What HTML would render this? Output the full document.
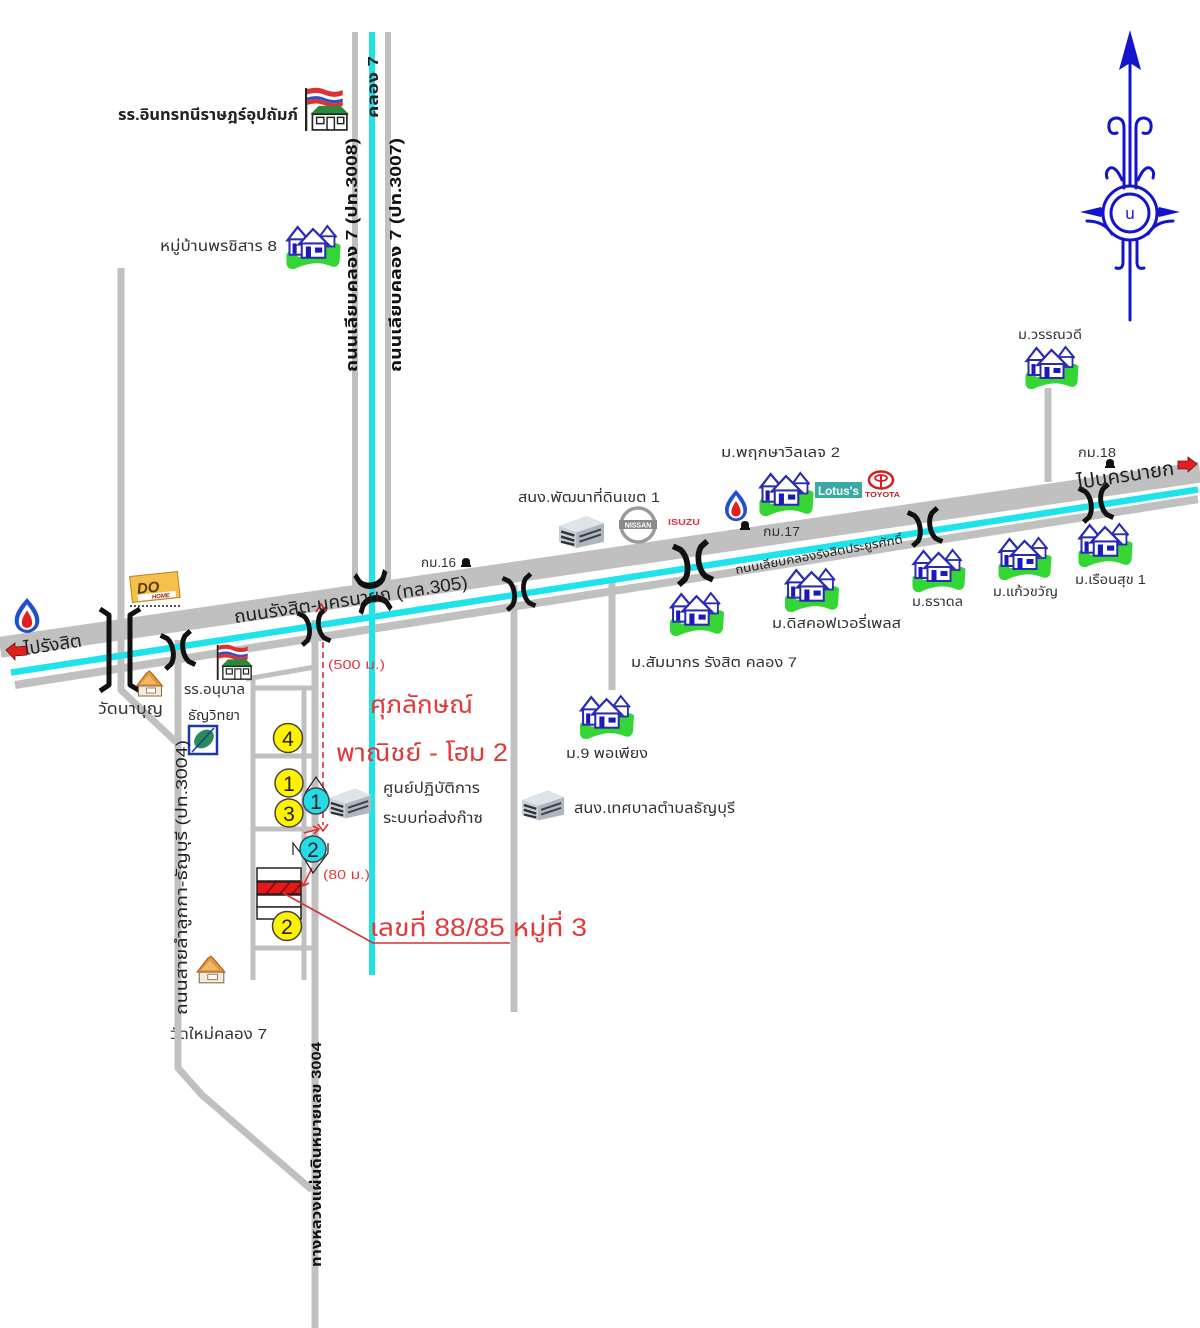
<!DOCTYPE html>
<html><head><meta charset="utf-8">
<style>
html,body{margin:0;padding:0;background:#fff;}
svg{display:block;}
text{font-family:"Liberation Sans","Noto Sans Thai","Noto Sans Thai UI","Tahoma","Loma","Garuda","Norasi","DejaVu Sans",sans-serif;}
</style></head><body>
<svg width="1200" height="1328" viewBox="0 0 1200 1328" xmlns="http://www.w3.org/2000/svg">
<defs>
<symbol id="house" viewBox="0 0 54 46">
 <path d="M1,31 Q2,27 9,28 L12,33 L36,32 Q38,24 42,21 Q50,18 54,22 L53,38 Q51,45 44,42 Q34,38 24,40 Q14,42 9,45 Q2,46 1,40 Z" fill="#33d633"/>
 <path d="M33,14 L41,3 L50,14" fill="#fff" stroke="#2b2bb0" stroke-width="2"/>
 <rect x="36" y="13" width="12" height="10" fill="#fff" stroke="#2b2bb0" stroke-width="1.8"/>
 <path d="M2,17 L12,4 L23,17 Z" fill="#fff" stroke="#2b2bb0" stroke-width="2.2"/>
 <rect x="4" y="16" width="16" height="15" fill="#fff" stroke="#2b2bb0" stroke-width="2"/>
 <rect x="7" y="20" width="4" height="10" fill="#1a1ab8"/>
 <path d="M13,21 L27,6 L42,21 Z" fill="#fff" stroke="#2b2bb0" stroke-width="2.2"/>
 <rect x="16" y="20" width="23" height="14" fill="#fff" stroke="#2b2bb0" stroke-width="2"/>
 <rect x="20" y="23" width="5" height="11" fill="#1a1ab8"/>
 <rect x="29" y="24" width="7" height="5" fill="#1a1ab8"/>
</symbol>
<symbol id="bldg" viewBox="0 0 46 34">
 <path d="M1,12 L28,2 L45,9 L45,27 L18,33 L1,27Z" fill="#8e969e"/>
 <path d="M1,12 L28,2 L45,9 L18,18Z" fill="#dfe4e8"/>
 <path d="M18,18 L45,9 L45,27 L18,33Z" fill="#aeb6bd"/>
 <path d="M1,12 L18,18 L18,33 L1,27Z" fill="#c9cfd4"/>
 <path d="M3,17 L16,21 M3,22 L16,26 M3,27 L16,30" stroke="#2a3036" stroke-width="2.4"/>
 <path d="M21,22 L42,15 M21,27 L42,20" stroke="#3a4046" stroke-width="2"/>
</symbol>
<symbol id="ptt" viewBox="0 0 28 36">
 <path d="M14,1 C6,10 2,16 2,23 C2,30 8,35 14,35 C20,35 26,30 26,23 C26,16 22,10 14,1Z" fill="#2050d0"/>
 <path d="M14,7 C9,14 6,18 6,24 C6,29 10,32 14,32 C18,32 22,29 22,24 C22,18 19,14 14,7Z" fill="#fff"/>
 <path d="M14,13 C11,18 9,21 9,25 C9,28 11,30 14,30 C17,30 19,28 19,25 C19,21 17,18 14,13Z" fill="#e02020"/>
</symbol>
<symbol id="school" viewBox="0 0 44 42">
 <line x1="3" y1="1" x2="3" y2="42" stroke="#222" stroke-width="2.2"/>
 <path d="M4,2 Q14,-1 22,3 Q30,6 38,3 L38,8 Q30,11 22,8 Q14,4 4,7Z" fill="#e03030"/>
 <path d="M4,7 Q14,4 22,8 Q30,11 38,8 L38,11 Q30,14 22,11 Q14,7 4,10Z" fill="#fff"/>
 <path d="M4,10 Q14,7 22,11 Q30,14 38,11 L38,14 Q30,17 22,14 Q14,10 4,13Z" fill="#3050c0"/>
 <path d="M4,13 Q14,10 22,14 Q30,17 38,14 L38,18 Q30,21 22,18 Q14,14 4,17Z" fill="#e03030"/>
 <path d="M7,26 L15,18 L36,18 L44,26 Z" fill="#2a8a3a"/>
 <rect x="9" y="26" width="33" height="15" fill="#fff" stroke="#222" stroke-width="1.6"/>
 <rect x="13" y="29" width="7" height="6" fill="#fff" stroke="#222" stroke-width="1.4"/>
 <rect x="23" y="29" width="7" height="12" fill="#fff" stroke="#222" stroke-width="1.4"/>
 <rect x="33" y="29" width="6" height="6" fill="#fff" stroke="#222" stroke-width="1.4"/>
</symbol>
<symbol id="temple" viewBox="0 0 30 28">
 <path d="M2,16 L12,3 L15,1 L18,4 L28,16 Z" fill="#e8963a" stroke="#a85a1a" stroke-width="1"/>
 <path d="M6,14 L14,5 L22,14Z" fill="#f2b86a"/>
 <rect x="4" y="16" width="23" height="10" fill="#f3ead8" stroke="#8a6a4a" stroke-width="1"/>
 <rect x="12" y="18" width="9" height="5" fill="#fff" stroke="#8a6a4a" stroke-width="0.8"/>
</symbol>
<g id="br">
 <path d="M-15,-17 L-9,-13 Q-5,-8 -5,0 Q-5,8 -9,13 L-15,17" fill="none" stroke="#111" stroke-width="5" stroke-linejoin="round"/>
 <path d="M15,-17 L9,-13 Q5,-8 5,0 Q5,8 9,13 L15,17" fill="none" stroke="#111" stroke-width="5" stroke-linejoin="round"/>
</g>
<g id="km">
 <path d="M-4,4 L-4,0 Q-4,-4 0,-4 Q4,-4 4,0 L4,4 Z" fill="#111"/>
 <rect x="-5" y="3" width="10" height="2" fill="#111"/>
</g>
</defs>

<rect width="1200" height="1328" fill="#fff"/>

<!-- gray roads (under main road) -->
<g stroke="#c0c0c0" fill="none" stroke-linejoin="round">
 <line x1="355" y1="32" x2="355" y2="600" stroke-width="6"/>
 <line x1="388" y1="32" x2="388" y2="590" stroke-width="6"/>
 <polyline points="121,268 121,690 176,742" stroke-width="7"/>
 <polyline points="178,640 178,1068 202,1095 312,1190" stroke-width="7"/>
 <line x1="315" y1="620" x2="315" y2="1328" stroke-width="7"/>
 <line x1="514" y1="585" x2="514" y2="1012" stroke-width="7"/>
 <line x1="612" y1="580" x2="612" y2="690" stroke-width="7"/>
 <line x1="1048" y1="388" x2="1048" y2="482" stroke-width="7"/>
 <line x1="253" y1="677" x2="253" y2="980" stroke-width="5"/>
 <line x1="304" y1="688" x2="304" y2="980" stroke-width="5"/>
 <line x1="246" y1="679" x2="315" y2="667" stroke-width="5"/>
 <line x1="253" y1="688" x2="315" y2="688" stroke-width="5"/>
 <line x1="253" y1="756" x2="315" y2="756" stroke-width="5"/>
 <line x1="253" y1="829" x2="315" y2="829" stroke-width="5"/>
 <line x1="253" y1="948" x2="315" y2="948" stroke-width="5"/>
</g>

<!-- main road -->
<line x1="0" y1="647.3" x2="1200" y2="472.1" stroke="#c0c0c0" stroke-width="21"/>
<line x1="15" y1="685" x2="1198" y2="499.2" stroke="#c0c0c0" stroke-width="8"/>
<line x1="11" y1="672.6" x2="1198" y2="489.6" stroke="#1ee3ea" stroke-width="6.5"/>
<line x1="372" y1="32" x2="372" y2="975" stroke="#1ee3ea" stroke-width="6"/>

<!-- bridges -->
<path d="M100,609 L109,615 L109,685 L100,691" fill="none" stroke="#111" stroke-width="5" stroke-linejoin="round"/>
<path d="M140,609 L130,615 L130,685 L140,691" fill="none" stroke="#111" stroke-width="5" stroke-linejoin="round"/>
<use href="#br" transform="translate(178,650) rotate(-8.5)"/>
<use href="#br" transform="translate(314,627) rotate(-8.5) scale(0.95)"/>
<use href="#br" transform="translate(373,592) rotate(81.5) scale(1.3 0.9)"/>
<use href="#br" transform="translate(519,592) rotate(-8.5) scale(0.95)"/>
<use href="#br" transform="translate(693,563) rotate(-8.5) scale(1.15)"/>
<use href="#br" transform="translate(925,527) rotate(-8.5)"/>
<use href="#br" transform="translate(1096,503) rotate(-8.5)"/>

<!-- compass -->
<g stroke="#1414cc" fill="none" stroke-width="3" stroke-linecap="round">
 <line x1="1130" y1="60" x2="1130" y2="186"/>
 <line x1="1130" y1="240" x2="1130" y2="320"/>
 <circle cx="1130" cy="213" r="27"/>
 <circle cx="1130" cy="213" r="19" stroke-width="3"/>
 <path d="M1124,188 L1124,128 Q1124,118 1116,118 Q1108,119 1109,128 Q1110,135 1117,133"/>
 <path d="M1136,188 L1136,128 Q1136,118 1144,118 Q1152,119 1151,128 Q1150,135 1143,133"/>
 <path d="M1122,180 Q1116,166 1110,168 Q1105,171 1107,178"/>
 <path d="M1138,180 Q1144,166 1150,168 Q1155,171 1153,178"/>
 <path d="M1123,240 L1123,262 Q1123,270 1116,268"/>
 <path d="M1137,240 L1137,262 Q1137,270 1144,268"/>
 <path d="M1087,221 Q1104,221 1112,234"/>
 <path d="M1173,221 Q1156,221 1148,234"/>
</g>
<polygon points="1130,30 1141,70 1130,63 1119,70" fill="#1414cc"/>
<polygon points="1080,212 1101,207 1104,212 1101,217" fill="#1414cc"/>
<polygon points="1180,212 1159,207 1156,212 1159,217" fill="#1414cc"/>
<text x="1130" y="219" text-anchor="middle" font-size="16" fill="#1414cc">น</text>

<!-- icons -->
<use href="#school" x="303" y="87" width="46" height="44"/>
<use href="#school" x="213" y="644" width="42" height="36"/>
<use href="#temple" x="134" y="670" width="31" height="28"/>
<use href="#temple" x="195" y="955" width="32" height="30"/>
<use href="#ptt" x="12" y="597" width="30" height="37"/>
<use href="#ptt" x="723" y="489" width="26" height="33"/>
<use href="#house" x="285" y="223" width="56" height="47"/>
<use href="#house" x="1024" y="344" width="55" height="46"/>
<use href="#house" x="758" y="470" width="56" height="47"/>
<use href="#house" x="669" y="590" width="55" height="47"/>
<use href="#house" x="784" y="566" width="55" height="47"/>
<use href="#house" x="911" y="547" width="55" height="46"/>
<use href="#house" x="997" y="535" width="55" height="46"/>
<use href="#house" x="1077" y="521" width="56" height="47"/>
<use href="#house" x="579" y="693" width="55" height="47"/>
<use href="#bldg" x="328" y="786" width="44" height="34"/>
<use href="#bldg" x="521" y="788" width="44" height="34"/>
<use href="#bldg" x="558" y="514" width="47" height="35"/>

<!-- DO HOME -->
<g transform="translate(155,588) rotate(-6)">
 <rect x="-24" y="-14" width="48" height="26" fill="#f5c04a" stroke="#c08020" stroke-width="1"/>
 <text x="-18" y="4" font-size="15" font-weight="bold" font-style="italic" fill="#5a3a10">DO</text>
 <rect x="-18" y="5" width="38" height="6" fill="#fff"/>
 <text x="-4" y="10.5" font-size="6" font-weight="bold" font-style="italic" fill="#8a2a10">HOME</text>
</g>
<line x1="130" y1="606" x2="182" y2="606" stroke="#555" stroke-width="2" stroke-dasharray="2,2"/>

<!-- leaf icon -->
<rect x="189" y="726" width="28" height="28" fill="#fff" stroke="#1a3aa0" stroke-width="2.5"/>
<ellipse cx="204" cy="739" rx="11" ry="8" transform="rotate(-40 204 739)" fill="#2a8a5a"/>
<line x1="192" y1="752" x2="214" y2="728" stroke="#1a3aa0" stroke-width="1.5"/>

<!-- NISSAN / ISUZU -->
<circle cx="638" cy="525" r="17" fill="#fff" stroke="#9a9a9a" stroke-width="3.5"/>
<rect x="619" y="520" width="38" height="9" fill="#8a8a8a"/>
<text x="638" y="527.5" font-size="7" font-weight="bold" fill="#fff" text-anchor="middle">NISSAN</text>
<text x="668" y="525" font-size="8" font-weight="bold" fill="#e03040" textLength="32" lengthAdjust="spacingAndGlyphs">ISUZU</text>

<!-- Lotus / Toyota -->
<rect x="815" y="482" width="47" height="16" fill="#3aa9a2"/>
<text x="818" y="495" font-size="12" font-weight="bold" fill="#fff" textLength="41" lengthAdjust="spacingAndGlyphs">Lotus's</text>
<ellipse cx="881" cy="480" rx="12" ry="8.5" fill="none" stroke="#d02020" stroke-width="2.5"/>
<ellipse cx="881" cy="478" rx="6" ry="3" fill="none" stroke="#d02020" stroke-width="1.8"/>
<line x1="881" y1="475" x2="881" y2="488" stroke="#d02020" stroke-width="2"/>
<text x="865" y="497" font-size="7" font-weight="bold" fill="#c02020" textLength="35" lengthAdjust="spacingAndGlyphs">TOYOTA</text>

<!-- km markers -->
<use href="#km" x="466" y="562"/>
<use href="#km" x="745" y="525"/>
<use href="#km" x="1110" y="463"/>

<!-- end arrows -->
<polygon points="6,650 15,643 15,647 27,646 27,655 15,656 15,660" fill="#e02020" stroke="#701010" stroke-width="0.8"/>
<polygon points="1197,464 1188,457 1188,461 1178,461 1178,469 1188,469 1188,472" fill="#e02020" stroke="#701010" stroke-width="0.8"/>

<!-- grid boxes -->
<rect x="257" y="868" width="44" height="13" fill="#fff" stroke="#222" stroke-width="1.5"/>
<rect x="257" y="882" width="44" height="12" fill="#e81818" stroke="#222" stroke-width="1.5"/>
<path d="M266,894 L276,882 M280,894 L290,882 M292,894 L301,884" stroke="#7a0a0a" stroke-width="1.5"/>
<rect x="257" y="895" width="44" height="12" fill="#fff" stroke="#222" stroke-width="1.5"/>
<rect x="257" y="907" width="44" height="12" fill="#fff" stroke="#222" stroke-width="1.5"/>

<!-- red annotations -->
<line x1="323" y1="642" x2="323" y2="825" stroke="#e03030" stroke-width="1.6" stroke-dasharray="6,4"/>
<path d="M316,612 L321,604 L326,612" fill="none" stroke="#e03030" stroke-width="1.8"/>
<path d="M318,824 L323,831 L328,824" fill="none" stroke="#e03030" stroke-width="1.6"/>
<path d="M304,833 L319,829 M313,826 L319,829 L314,834" fill="none" stroke="#e03030" stroke-width="1.6"/>
<path d="M312,868 L303,886 M301,879 L303,886 L309,883" fill="none" stroke="#e03030" stroke-width="1.6"/>
<polyline points="283,893 373,943 510,943" fill="none" stroke="#d83030" stroke-width="1.6"/>

<!-- diamond outlines -->
<path d="M305,793 L316,777 L327,793" fill="none" stroke="#222" stroke-width="1.2"/>
<path d="M293,855 L293,843 L302,855 L313,873 L328,853 L328,843" fill="none" stroke="#222" stroke-width="1.2"/>

<!-- numbered circles -->
<g stroke="#444" stroke-width="1.5" fill="#fff200">
 <circle cx="288" cy="738" r="14.5"/>
 <circle cx="289" cy="783" r="14"/>
 <circle cx="289" cy="813" r="14"/>
 <circle cx="287" cy="926" r="14.5"/>
</g>
<g stroke="#444" stroke-width="1.5" fill="#22dde8">
 <circle cx="316" cy="801" r="13"/>
 <circle cx="313" cy="849" r="13"/>
</g>
<g font-size="21" fill="#222" text-anchor="middle">
 <text x="288" y="746">4</text>
 <text x="289" y="791">1</text>
 <text x="289" y="821">3</text>
 <text x="287" y="934">2</text>
 <text x="316" y="809">1</text>
 <text x="313" y="857">2</text>
</g>

<!-- labels -->
<g fill="#333">
 <text x="118" y="120" font-size="16" font-weight="bold" fill="#222" textLength="180" lengthAdjust="spacingAndGlyphs">รร.อินทรทนีราษฎร์อุปถัมภ์</text>
 <text x="160" y="251" font-size="15" textLength="117" lengthAdjust="spacingAndGlyphs">หมู่บ้านพรชิสาร 8</text>
 <text transform="translate(378,118) rotate(-90)" font-size="15" font-weight="bold" fill="#222" textLength="62" lengthAdjust="spacingAndGlyphs">คลอง 7</text>
 <text transform="translate(357,372) rotate(-90)" font-size="16" font-weight="bold" fill="#111" textLength="234" lengthAdjust="spacingAndGlyphs">ถนนเลียบคลอง 7 (ปท.3008)</text>
 <text transform="translate(401,372) rotate(-90)" font-size="16" font-weight="bold" fill="#111" textLength="234" lengthAdjust="spacingAndGlyphs">ถนนเลียบคลอง 7 (ปท.3007)</text>
 <text transform="translate(187,1015) rotate(-90)" font-size="16" fill="#222" textLength="275" lengthAdjust="spacingAndGlyphs">ถนนสายลำลูกกา-ธัญบุรี (ปท.3004)</text>
 <text transform="translate(321,1267) rotate(-90)" font-size="14" font-weight="bold" fill="#111" textLength="225" lengthAdjust="spacingAndGlyphs">ทางหลวงแผ่นดินหมายเลข 3004</text>
 <text x="98" y="714" font-size="16" textLength="65" lengthAdjust="spacingAndGlyphs">วัดนาบุญ</text>
 <text x="184" y="694" font-size="14" textLength="61" lengthAdjust="spacingAndGlyphs">รร.อนุบาล</text>
 <text x="188" y="720" font-size="14" textLength="52" lengthAdjust="spacingAndGlyphs">ธัญวิทยา</text>
 <text x="170" y="1039" font-size="15" textLength="97" lengthAdjust="spacingAndGlyphs">วัดใหม่คลอง 7</text>
 <text transform="translate(25,655) rotate(-8.5)" font-size="18" fill="#222" textLength="58" lengthAdjust="spacingAndGlyphs">ไปรังสิต</text>
 <text transform="translate(235,623) rotate(-8.5)" font-size="18" fill="#222" textLength="236" lengthAdjust="spacingAndGlyphs">ถนนรังสิต-นครนายก (ทล.305)</text>
 <text x="421" y="567" font-size="13" textLength="35" lengthAdjust="spacingAndGlyphs">กม.16</text>
 <text x="518" y="502" font-size="14" textLength="142" lengthAdjust="spacingAndGlyphs">สนง.พัฒนาที่ดินเขต 1</text>
 <text x="721" y="457" font-size="14" textLength="119" lengthAdjust="spacingAndGlyphs">ม.พฤกษาวิลเลจ 2</text>
 <text x="763" y="536" font-size="13" textLength="37" lengthAdjust="spacingAndGlyphs">กม.17</text>
 <text x="1018" y="339" font-size="13" textLength="64" lengthAdjust="spacingAndGlyphs">ม.วรรณวดี</text>
 <text x="1078" y="457" font-size="13" textLength="38" lengthAdjust="spacingAndGlyphs">กม.18</text>
 <text transform="translate(1078,489) rotate(-8.5)" font-size="20" fill="#222" textLength="98" lengthAdjust="spacingAndGlyphs">ไปนครนายก</text>
 <text transform="translate(736,574) rotate(-10.5)" font-size="12" fill="#222" textLength="170" lengthAdjust="spacingAndGlyphs">ถนนเลียบคลองรังสิตประยูรศักดิ์</text>
 <text x="631" y="667" font-size="14" textLength="166" lengthAdjust="spacingAndGlyphs">ม.สัมมากร รังสิต คลอง 7</text>
 <text x="772" y="628" font-size="14" textLength="129" lengthAdjust="spacingAndGlyphs">ม.ดิสคอฟเวอรี่เพลส</text>
 <text x="912" y="606" font-size="13" textLength="51" lengthAdjust="spacingAndGlyphs">ม.ธราดล</text>
 <text x="993" y="596" font-size="13" textLength="65" lengthAdjust="spacingAndGlyphs">ม.แก้วขวัญ</text>
 <text x="1075" y="584" font-size="13" textLength="71" lengthAdjust="spacingAndGlyphs">ม.เรือนสุข 1</text>
 <text x="566" y="758" font-size="14" textLength="82" lengthAdjust="spacingAndGlyphs">ม.9 พอเพียง</text>
 <text x="383" y="793" font-size="15" textLength="97" lengthAdjust="spacingAndGlyphs">ศูนย์ปฏิบัติการ</text>
 <text x="383" y="823" font-size="15" textLength="100" lengthAdjust="spacingAndGlyphs">ระบบท่อส่งก๊าซ</text>
 <text x="574" y="813" font-size="15" textLength="161" lengthAdjust="spacingAndGlyphs">สนง.เทศบาลตำบลธัญบุรี</text>
</g>
<!-- cover start of วัดใหม่ label with road -->
<line x1="178" y1="1020" x2="178" y2="1045" stroke="#c0c0c0" stroke-width="7"/>

<g fill="#e03a3a">
 <text x="328" y="669" font-size="13" textLength="57" lengthAdjust="spacingAndGlyphs">(500 ม.)</text>
 <text x="323" y="879" font-size="13" textLength="47" lengthAdjust="spacingAndGlyphs">(80 ม.)</text>
 <text x="370" y="713" font-size="25" textLength="103" lengthAdjust="spacingAndGlyphs">ศุภลักษณ์</text>
 <text x="336" y="761" font-size="25" textLength="172" lengthAdjust="spacingAndGlyphs">พาณิชย์ - โฮม 2</text>
 <text x="370" y="936" font-size="25" textLength="217" lengthAdjust="spacingAndGlyphs">เลขที่ 88/85 หมู่ที่ 3</text>
</g>
</svg>
</body></html>
